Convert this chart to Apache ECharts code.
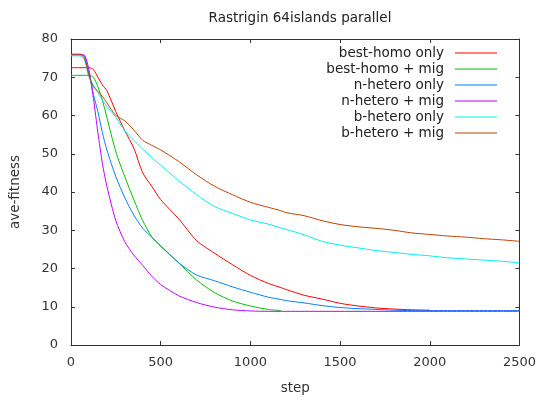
<!DOCTYPE html>
<html>
<head>
<meta charset="utf-8">
<script src="https://cdn.jsdelivr.net/npm/echarts@6/dist/echarts.min.js"></script>
<style>
html,body{margin:0;padding:0;background:#fff;}
#chart{width:539px;height:400px;}
</style>
</head>
<body>
<div id="chart"></div>
<script>
// step values shared by all runs
var steps = [0,50,75,100,125,150,175,200,250,300,350,400,450,500,600,700,800,900,1000,1100,1170,1200,1300,1400,1500,1600,1700,1800,1900,2000,2100,2200,2300,2400,2500];

var bestHomoOnly = [72.5,72.5,72.5,72.5,72,70,68,66.5,61,56,51.5,45,41.5,38,33,27.3,24,21,18.2,16.1,15,14.5,13,12,10.9,10.2,9.7,9.4,9.2,9.1,null,null,null,null,null];
var bestHomoMig = [70.5,70.5,70.5,70.5,70,67.5,64,59.5,50.5,44,38,32.5,28.3,25.8,21.5,17,13.7,11.5,10.2,9.3,9.0,null,null,null,null,null,null,null,null,null,null,null,null,null,null];
var nHeteroOnly = [75.8,75.8,75.5,71,65.5,61,55.5,51,44,38.5,34,30.5,28.2,26,21.5,18.3,16.8,15.2,13.8,12.5,11.9,11.6,11,10.3,9.8,9.5,9.3,9.1,9.0,9.0,9.0,9.0,9.0,9.0,9.0];
var nHeteroMig = [76,76,75.8,72,64.5,55.5,47.5,41.5,32.5,27,23.5,20.8,18,15.8,12.9,11.1,9.9,9.2,8.9,8.8,8.8,8.8,8.8,8.8,8.8,8.8,8.8,8.8,8.8,8.8,8.8,8.8,8.8,8.8,8.8];
var bHeteroOnly = [75.6,75.6,74.5,70,68,66,64,62.4,59.5,56,53.5,51.2,49,47,43,39.3,36.2,34.4,32.7,31.6,30.6,30.2,28.8,27.1,26.1,25.4,24.7,24.2,23.7,23.3,22.8,22.5,22.2,21.9,21.5];
var bHeteroMig = [76,76,75,70.5,67.5,66.3,65,63.3,60,58.6,56.2,53.5,52.2,51,48,44.5,41.5,39.3,37.3,36,35.1,34.6,33.8,32.5,31.5,30.9,30.5,30,29.3,28.9,28.5,28.2,27.8,27.5,27.1];

var names = ['best-homo only','best-homo + mig','n-hetero only','n-hetero + mig','b-hetero only','b-hetero + mig'];
var colors = ['#ff0000','#00c000','#0080ff','#c000ff','#00eeee','#c04000'];
var values = [bestHomoOnly,bestHomoMig,nHeteroOnly,nHeteroMig,bHeteroOnly,bHeteroMig];

var xTicks = [0,500,1000,1500,2000,2500];
var yTicks = [0,10,20,30,40,50,60,70,80];

function pairs(vals){
    var out=[];
    for(var i=0;i<steps.length;i++){
        if(vals[i]!==null) out.push([steps[i],vals[i]]);
    }
    return out;
}

var font = 'DejaVu Sans';
var series = [];
for(var i=0;i<names.length;i++){
    series.push({
        name:names[i],
        type:'line',
        data:pairs(values[i]),
        showSymbol:false,
        symbol:'none',
        smooth:0.25,
        lineStyle:{color:colors[i],width:1},
        itemStyle:{color:colors[i]}
    });
}

function axisBase(pos,isX,show){
    var t = isX ? xTicks : yTicks;
    return {
        type:'value',
        position:pos,
        min:t[0],
        max:t[t.length-1],
        interval:t[1]-t[0],
        axisLine:{show:true,onZero:false,lineStyle:{color:'#333',width:1}},
        axisTick:{show:true,inside:true,length:4,lineStyle:{color:'#333'}},
        axisLabel:{show:show,color:'#333',fontFamily:font,fontSize:13,margin:isX?11:13,
            formatter:function(v){return String(v);}},
        splitLine:{show:false}
    };
}

var xMain = axisBase('bottom',true,true);
xMain.name='step';
xMain.nameLocation='middle';
xMain.nameGap=36;
xMain.nameTextStyle={color:'#333',fontFamily:font,fontSize:13.5};
var yMain = axisBase('left',false,true);
yMain.name='ave-fitness';
yMain.nameLocation='middle';
yMain.nameGap=49;
yMain.nameRotate=90;
yMain.nameTextStyle={color:'#333',fontFamily:font,fontSize:13.5};

var myChart = echarts.init(document.getElementById('chart'));
myChart.setOption({
    animation:false,
    title:{text:'Rastrigin 64islands parallel',left:295,textAlign:'center',top:6,
        textStyle:{color:'#222',fontFamily:font,fontSize:13.5,fontWeight:'normal'}},
    grid:{left:71,right:19,top:39,bottom:53},
    legend:{
        orient:'vertical',right:37,top:40,align:'right',itemGap:0,
        itemWidth:42,itemHeight:1,icon:'rect',
        textStyle:{color:'#222',fontFamily:font,fontSize:13.5,padding:[0,6,0,0],lineHeight:16},
        data:names
    },
    xAxis:[xMain,axisBase('top',true,false)],
    yAxis:[yMain,axisBase('right',false,false)],
    series:series
});
</script>
</body>
</html>
